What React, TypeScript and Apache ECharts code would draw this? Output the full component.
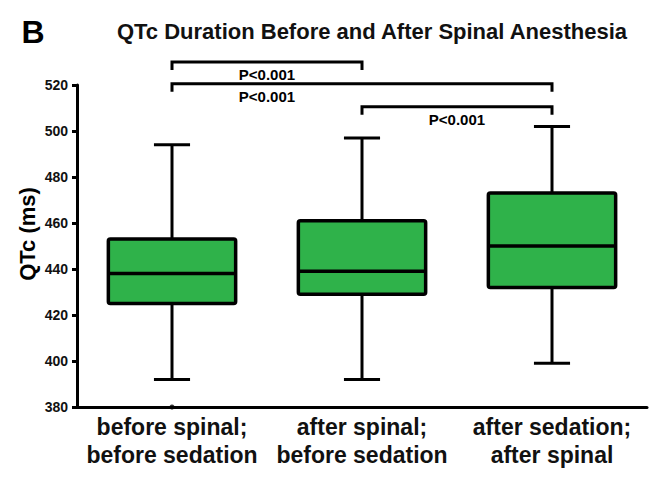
import React, { useEffect, useRef } from "react";
import * as echarts from "echarts";

const categories = [
  "before spinal;\nbefore sedation",
  "after spinal;\nbefore sedation",
  "after sedation;\nafter spinal",
];
const whiskerLow = [392, 392, 399];
const quartile1 = [425, 429, 432];
const medians = [438, 439, 450];
const quartile3 = [453, 461, 473];
const whiskerHigh = [494, 497, 502];
const outlierPoints = [[0, 380]];

const yMin = 380;
const yMax = 520;
const yInterval = 20;

const bracketFrom = [0, 0, 1];
const bracketTo = [1, 2, 2];
const bracketLevel = [530, 520.5, 510.5];
const bracketLabelAt = [0.5, 0.5, 1.5];
const bracketLabels = ["P<0.001", "P<0.001", "P<0.001"];

const FONT = '"Liberation Sans", Arial, Helvetica, sans-serif';
const GREEN = "#2fb24a";

export default function App() {
  const ref = useRef<HTMLDivElement>(null);

  useEffect(() => {
    if (!ref.current) return;
    const chart = echarts.init(ref.current, null, { renderer: "svg" });

    const boxData = categories.map((_, i) => [
      i,
      whiskerLow[i],
      quartile1[i],
      medians[i],
      quartile3[i],
      whiskerHigh[i],
    ]);
    const bracketData = bracketFrom.map((f, i) => [
      f,
      bracketTo[i],
      bracketLevel[i],
      bracketLabelAt[i],
    ]);

    const option: any = {
      animation: false,
      backgroundColor: "#fff",
      title: {
        text: "QTc Duration Before and After Spinal Anesthesia",
        left: 367,
        top: 15,
        textAlign: "center",
        textStyle: {
          fontFamily: FONT,
          fontWeight: "bold",
          fontSize: 22,
          color: "#111",
        },
      },
      grid: {
        left: 77,
        right: 24,
        top: 85,
        bottom: 70,
        containLabel: false,
        outerBoundsMode: "none",
      },
      xAxis: {
        type: "category",
        data: categories,
        axisLine: { show: true, lineStyle: { color: "#000", width: 3 } },
        axisTick: { show: false },
        axisLabel: {
          margin: 6,
          fontFamily: FONT,
          fontWeight: "bold",
          fontSize: 23,
          lineHeight: 28,
          color: "#111",
          interval: 0,
        },
        splitLine: { show: false },
      },
      yAxis: {
        type: "value",
        min: yMin,
        max: yMax,
        interval: yInterval,
        axisLine: { show: true, lineStyle: { color: "#000", width: 3 } },
        axisTick: {
          show: true,
          inside: false,
          length: 5,
          lineStyle: { color: "#000", width: 3 },
        },
        axisLabel: {
          margin: 9,
          fontFamily: FONT,
          fontWeight: "bold",
          fontSize: 14,
          color: "#111",
        },
        splitLine: { show: false },
      },
      graphic: [
        {
          type: "text",
          x: 33,
          y: 32,
          style: {
            text: "B",
            font: `bold 32px ${FONT}`,
            fill: "#000",
            align: "center",
            verticalAlign: "middle",
          },
        },
        {
          type: "text",
          x: 27,
          y: 234,
          rotation: Math.PI / 2,
          style: {
            text: "QTc (ms)",
            font: `bold 22px ${FONT}`,
            fill: "#000",
            align: "center",
            verticalAlign: "middle",
          },
        },
      ],
      series: [
        {
          type: "custom",
          clip: false,
          data: boxData,
          renderItem: (params: any, api: any) => {
            const x = api.value(0);
            const pMin = api.coord([x, api.value(1)]);
            const pQ1 = api.coord([x, api.value(2)]);
            const pMed = api.coord([x, api.value(3)]);
            const pQ3 = api.coord([x, api.value(4)]);
            const pMax = api.coord([x, api.value(5)]);
            const band = api.size([1, 0])[0];
            const bw = band * 0.67;
            const cw = band * 0.19;
            const cx = pMed[0];
            const lineStyle = { stroke: "#000", lineWidth: 3, fill: null };
            return {
              type: "group",
              children: [
                {
                  type: "line",
                  shape: { x1: cx, y1: pQ3[1], x2: cx, y2: pMax[1] },
                  style: lineStyle,
                },
                {
                  type: "line",
                  shape: { x1: cx, y1: pQ1[1], x2: cx, y2: pMin[1] },
                  style: lineStyle,
                },
                {
                  type: "line",
                  shape: { x1: cx - cw / 2, y1: pMax[1], x2: cx + cw / 2, y2: pMax[1] },
                  style: lineStyle,
                },
                {
                  type: "line",
                  shape: { x1: cx - cw / 2, y1: pMin[1], x2: cx + cw / 2, y2: pMin[1] },
                  style: lineStyle,
                },
                {
                  type: "rect",
                  shape: {
                    x: cx - bw / 2,
                    y: pQ3[1],
                    width: bw,
                    height: pQ1[1] - pQ3[1],
                    r: 2,
                  },
                  style: { fill: GREEN, stroke: "#000", lineWidth: 3.5, lineJoin: "round" },
                },
                {
                  type: "line",
                  shape: { x1: cx - bw / 2, y1: pMed[1], x2: cx + bw / 2, y2: pMed[1] },
                  style: { stroke: "#000", lineWidth: 3.5 },
                },
              ],
            };
          },
          z: 3,
        },
        {
          type: "scatter",
          data: outlierPoints,
          symbol: "circle",
          symbolSize: 5,
          itemStyle: { color: "#000" },
          clip: false,
          z: 4,
        },
        {
          type: "custom",
          clip: false,
          data: bracketData,
          renderItem: (params: any, api: any) => {
            const p1 = api.coord([api.value(0), api.value(2)]);
            const p2 = api.coord([api.value(1), api.value(2)]);
            const a = api.coord([0, api.value(2)]);
            const b = api.coord([1, api.value(2)]);
            const labelX = a[0] + (b[0] - a[0]) * api.value(3);
            const label = bracketLabels[params.dataIndex];
            return {
              type: "group",
              children: [
                {
                  type: "polyline",
                  shape: {
                    points: [
                      [p1[0], p1[1] + 8],
                      [p1[0], p1[1]],
                      [p2[0], p2[1]],
                      [p2[0], p2[1] + 8],
                    ],
                  },
                  style: { stroke: "#000", lineWidth: 3, fill: null },
                },
                {
                  type: "text",
                  x: labelX,
                  y: p1[1] + 12.5,
                  style: {
                    text: label,
                    font: `bold 15px ${FONT}`,
                    fill: "#000",
                    align: "center",
                    verticalAlign: "middle",
                  },
                },
              ],
            };
          },
          z: 5,
        },
      ],
    };

    chart.setOption(option);
    return () => chart.dispose();
  }, []);

  return (
    <div
      ref={ref}
      style={{ position: "fixed", left: 0, top: 0, width: 671, height: 477 }}
    />
  );
}
